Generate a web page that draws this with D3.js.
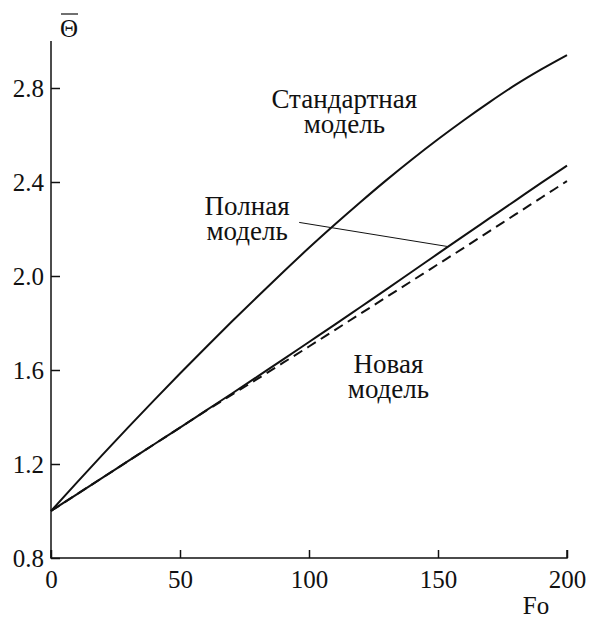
<!DOCTYPE html>
<html>
<head>
<meta charset="utf-8">
<script src="https://cdn.jsdelivr.net/npm/d3@7"></script>
</head>
<body style="margin:0">
<div id="chart"></div>
<script>
// Fo values shared by all curves
const fo = [0, 10, 20, 30, 40, 50, 60, 70, 80, 90, 100, 110, 120, 130, 140, 150, 160, 170, 180, 190, 200];

// Стандартная модель
const standardModel = [1.0, 1.121, 1.24, 1.357, 1.472, 1.585, 1.696, 1.805, 1.912, 2.017, 2.12,
  2.219, 2.315, 2.408, 2.497, 2.582, 2.663, 2.74, 2.813, 2.879, 2.94];
// Полная модель
const fullModel = [1.0, 1.071, 1.142, 1.213, 1.284, 1.355, 1.427, 1.499, 1.572, 1.645, 1.719,
  1.793, 1.868, 1.943, 2.019, 2.095, 2.171, 2.246, 2.321, 2.396, 2.47];
// Новая модель (dashed)
const newModel = [1.0, 1.071, 1.142, 1.213, 1.284, 1.355, 1.426, 1.494, 1.562, 1.631, 1.70,
  1.77, 1.84, 1.91, 1.98, 2.05, 2.12, 2.191, 2.262, 2.333, 2.404];

const xTicks = [0, 50, 100, 150, 200];
const yTicks = [0.8, 1.2, 1.6, 2.0, 2.4, 2.8];

const W = 596, H = 619;
const margin = { top: 41, right: 29, bottom: 61, left: 51 };

const x = d3.scaleLinear().domain([0, 200]).range([margin.left, W - margin.right]);
const y = d3.scaleLinear().domain([0.8, 3.0]).range([H - margin.bottom, margin.top]);

const svg = d3.select("#chart")
  .append("svg")
  .attr("width", W)
  .attr("height", H);

// put a serif text on the svg: same call for every label
function serifText(sel, size) {
  return sel
    .attr("fill", "#111")
    .style("font-family", "\"Liberation Serif\"")
    .style("font-size", size + "px");
}

// axes: ticks point inward
const xAxis = svg.append("g")
  .attr("transform", `translate(0,${y(0.8)})`)
  .call(d3.axisBottom(x).tickValues(xTicks).tickSize(-8).tickPadding(12).tickFormat(d3.format("d")));
xAxis.select(".domain").attr("d", `M${x(0)},-8V0H${x(200)}V-8`);
xAxis.selectAll("path, line").attr("stroke", "#111").attr("stroke-width", 1.5);
serifText(xAxis.selectAll("text"), 25).attr("dy", "0.72em");

const yAxis = svg.append("g")
  .attr("transform", `translate(${x(0)},0)`)
  .call(d3.axisLeft(y).tickValues(yTicks).tickSize(-9).tickPadding(7).tickFormat(d3.format(".1f")));
yAxis.select(".domain").attr("d", `M0,${y(3.0)}V${y(0.8)}`);
yAxis.selectAll("path, line").attr("stroke", "#111").attr("stroke-width", 1.5);
serifText(yAxis.selectAll("text"), 25);

// axis titles
serifText(svg.append("text"), 25)
  .attr("x", x(0) + 18)
  .attr("y", 37)
  .attr("text-anchor", "middle")
  .text("Θ");
svg.append("line")
  .attr("x1", x(0) + 10).attr("x2", x(0) + 27)
  .attr("y1", 14).attr("y2", 14)
  .attr("stroke", "#111").attr("stroke-width", 1.2);

serifText(svg.append("text"), 25)
  .attr("x", 536)
  .attr("y", 614)
  .attr("text-anchor", "middle")
  .text("Fo");

// curves
const line = d3.line()
  .x((d, i) => x(fo[i]))
  .y(d => y(d))
  .curve(d3.curveMonotoneX);

svg.append("path")
  .datum(standardModel)
  .attr("fill", "none")
  .attr("stroke", "#111")
  .attr("stroke-width", 2)
  .attr("d", line);

svg.append("path")
  .datum(fullModel)
  .attr("fill", "none")
  .attr("stroke", "#111")
  .attr("stroke-width", 2)
  .attr("d", line);

svg.append("path")
  .datum(newModel)
  .attr("fill", "none")
  .attr("stroke", "#111")
  .attr("stroke-width", 2)
  .attr("stroke-dasharray", "10,6")
  .attr("d", line);

// leader line from "Полная модель" to its curve
svg.append("line")
  .attr("x1", x(96.2)).attr("y1", y(2.228))
  .attr("x2", x(154)).attr("y2", y(2.125))
  .attr("stroke", "#111")
  .attr("stroke-width", 1);

// annotations, one text per line
function label(cx, cy, lines) {
  lines.forEach((s, i) => {
    serifText(svg.append("text"), 27)
      .attr("text-anchor", "middle")
      .attr("x", x(cx))
      .attr("y", y(cy) + i * 25)
      .text(s);
  });
}

label(113.7, 2.715, ["Стандартная", "модель"]);
label(76, 2.26, ["Полная", "модель"]);
label(130.8, 1.587, ["Новая", "модель"]);
</script>
</body>
</html>
